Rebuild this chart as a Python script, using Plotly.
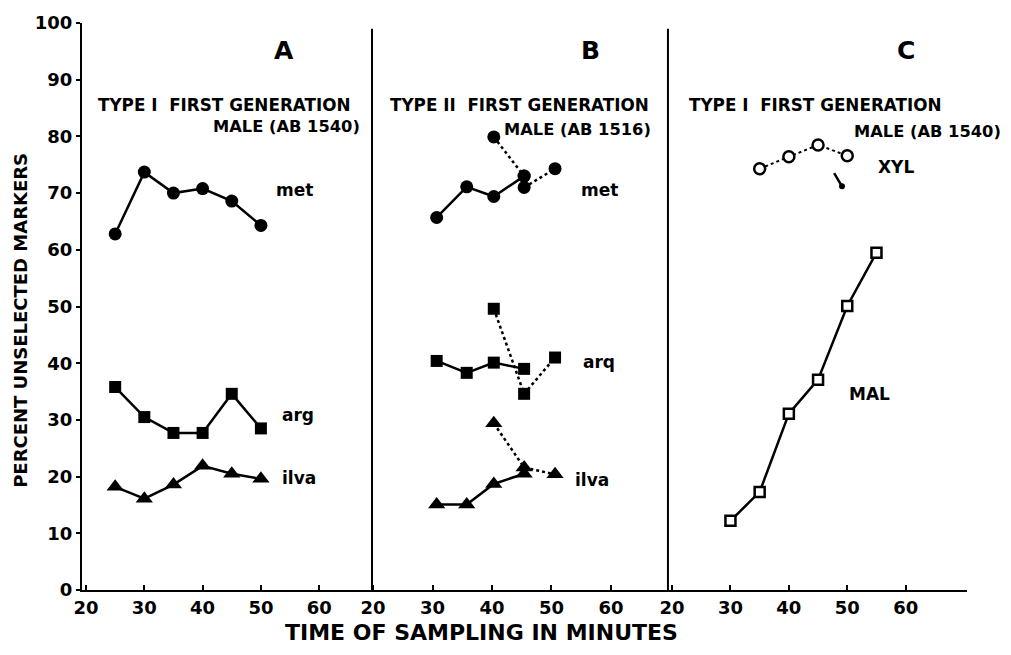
import plotly.graph_objects as go

# ---------------- data ----------------
# Panel A (Type I, AB1540)
a_x = [25, 30, 35, 40, 45, 50]
a_met = [62.8, 73.7, 70.0, 70.8, 68.6, 64.3]
a_arg = [35.8, 30.5, 27.7, 27.7, 34.6, 28.5]
a_ilva = [18.2, 16.1, 18.6, 21.9, 20.5, 19.6]

# Panel B (Type II, AB1516) - solid series
b_x = [30.7, 35.75, 40.3, 45.4]
b_met = [65.7, 71.1, 69.4, 73.0]
b_arg = [40.4, 38.3, 40.1, 39.0]
b_ilva = [15.1, 15.1, 18.7, 20.5]
# Panel B dotted branches
b_met_dot1_x = [40.3, 45.4]
b_met_dot1 = [79.9, 73.0]
b_met_dot2_x = [45.4, 50.6]
b_met_dot2 = [71.0, 74.3]
b_arg_dot_x = [40.3, 45.4, 50.6]
b_arg_dot = [49.6, 34.6, 41.0]
b_ilva_dot_x = [40.3, 45.4, 50.6]
b_ilva_dot = [29.4, 21.6, 20.4]

# Panel C (Type I, AB1540)
c_xyl_x = [35, 40, 45, 50]
c_xyl = [74.3, 76.4, 78.5, 76.6]
c_mal_x = [30, 35, 40, 45, 50, 55]
c_mal = [12.2, 17.3, 31.1, 37.1, 50.1, 59.5]

y_ticks = list(range(0, 101, 10))
x_ticks = [20, 30, 40, 50, 60]

FONT = "DejaVu Sans"
BLACK = "black"

fig = go.Figure()

def add(x, y, xa, symbol, size, dash="solid", lw=2.5, fill=True):
    fig.add_trace(go.Scatter(
        x=x, y=y, xaxis=xa, yaxis="y", mode="lines+markers",
        line=dict(color=BLACK, width=lw, dash=dash),
        marker=dict(symbol=symbol, size=size, color=BLACK if fill else "white",
                    line=dict(color=BLACK, width=0 if fill else 2.5)),
        showlegend=False, hoverinfo="x+y"))

# Panel A
add(a_x, a_met, "x", "circle", 13)
add(a_x, a_arg, "x", "square", 12)
add(a_x, a_ilva, "x", "triangle-up", 15)

# Panel B
add(b_met_dot1_x, b_met_dot1, "x2", "circle", 13, dash="dot")
add(b_met_dot2_x, b_met_dot2, "x2", "circle", 13, dash="dot")
add(b_x, b_met, "x2", "circle", 13)
add(b_arg_dot_x, b_arg_dot, "x2", "square", 12, dash="dot")
add(b_x, b_arg, "x2", "square", 12)
add(b_ilva_dot_x, b_ilva_dot, "x2", "triangle-up", 15, dash="dot")
add(b_x, b_ilva, "x2", "triangle-up", 15)

# Panel C
add(c_xyl_x, c_xyl, "x3", "circle", 11, dash="dot", lw=2, fill=False)
add(c_mal_x, c_mal, "x3", "square", 10, lw=2.5, fill=False)

# ---------------- layout ----------------
dA = [0.0, 0.3277]
dB = [0.3277, 0.6621]
dC = [0.6621, 1.0]

tickfont = dict(family=FONT, size=18, color=BLACK, weight="bold")
xcommon = dict(showline=True, linecolor=BLACK, linewidth=2, ticks="inside",
               ticklen=5, tickwidth=2, tickcolor=BLACK, tickvals=x_ticks,
               showgrid=False, zeroline=False, tickfont=tickfont, anchor="y",
               fixedrange=True)

fig.update_layout(
    width=1011, height=655,
    margin=dict(l=82, r=44, t=17, b=65),
    paper_bgcolor="white", plot_bgcolor="white",
    xaxis=dict(domain=dA, range=[19.31, 69.06], **xcommon),
    xaxis2=dict(domain=dB, range=[19.83, 69.58], **xcommon),
    xaxis3=dict(domain=dC, range=[19.3, 70.5], **xcommon),
    yaxis=dict(range=[0, 100], tickvals=y_ticks, showline=True, linecolor=BLACK,
               linewidth=2, ticks="outside", ticklen=4, tickwidth=2,
               tickcolor=BLACK, showgrid=False, zeroline=False,
               tickfont=tickfont, anchor="x", fixedrange=True),
)

# panel dividers
for xa in ["x2", "x3"]:
    fig.add_shape(type="line", xref=f"{xa} domain", yref="y", x0=0, x1=0,
                  y0=0, y1=99, line=dict(color=BLACK, width=2))

W_PLOT = 885.0
H_PLOT = 573.0

def ptxt(px, py, s, size=16, xanchor="left"):
    """place text at pixel-like position converted to paper coords"""
    fig.add_annotation(x=(px - 82) / W_PLOT, y=(590 - py) / H_PLOT,
                       xref="paper", yref="paper", text=f"<b>{s}</b>",
                       showarrow=False, xanchor=xanchor, yanchor="middle",
                       font=dict(family=FONT, size=size, color=BLACK))

def txt(x, y, s, xref, size=17, xanchor="left"):
    fig.add_annotation(x=x, y=y, xref=xref, yref="y", text=f"<b>{s}</b>",
                       showarrow=False, xanchor=xanchor, yanchor="middle",
                       font=dict(family=FONT, size=size, color=BLACK))

# Panel headers
ptxt(284, 45, "A", size=25, xanchor="center")
ptxt(96, 100, "TYPE I&nbsp;&nbsp;FIRST GENERATION", size=16.8)
ptxt(362, 122, "MALE (AB 1540)", size=16.3, xanchor="right")

ptxt(590, 45, "B", size=25, xanchor="center")
ptxt(388, 100, "TYPE II&nbsp;&nbsp;FIRST GENERATION", size=16.8)
ptxt(653, 125, "MALE (AB 1516)", size=16.3, xanchor="right")

ptxt(906, 45, "C", size=25, xanchor="center")
ptxt(687, 100, "TYPE I&nbsp;&nbsp;FIRST GENERATION", size=16.8)
ptxt(1003, 127, "MALE (AB 1540)", size=16.3, xanchor="right")

# series labels
txt(52.3, 70.5, "met", "x")
txt(53.2, 30.9, "arg", "x")
txt(53.2, 19.8, "ilva", "x")
txt(54.6, 70.5, "met", "x2")
txt(55.0, 40.3, "arq", "x2")
txt(53.6, 19.4, "ilva", "x2")
txt(55.0, 74.6, "XYL", "x3")
txt(50.0, 34.6, "MAL", "x3")

# small arrow mark near XYL
fig.add_annotation(x=49.1, y=71.2, ax=47.6, ay=73.8, xref="x3", yref="y",
                   axref="x3", ayref="y", text="", showarrow=True,
                   arrowhead=6, arrowsize=0.6, arrowwidth=2.5, arrowcolor=BLACK)

# axis titles
ptxt(481, 633, "TIME OF SAMPLING IN MINUTES", size=22, xanchor="center")
fig.add_annotation(x=(21 - 82) / W_PLOT, y=(590 - 318) / H_PLOT,
                   xref="paper", yref="paper",
                   text="<b>PERCENT UNSELECTED MARKERS</b>", showarrow=False,
                   textangle=-90, xanchor="center", yanchor="middle",
                   font=dict(family=FONT, size=18, color=BLACK))

fig.write_html("out.html")
